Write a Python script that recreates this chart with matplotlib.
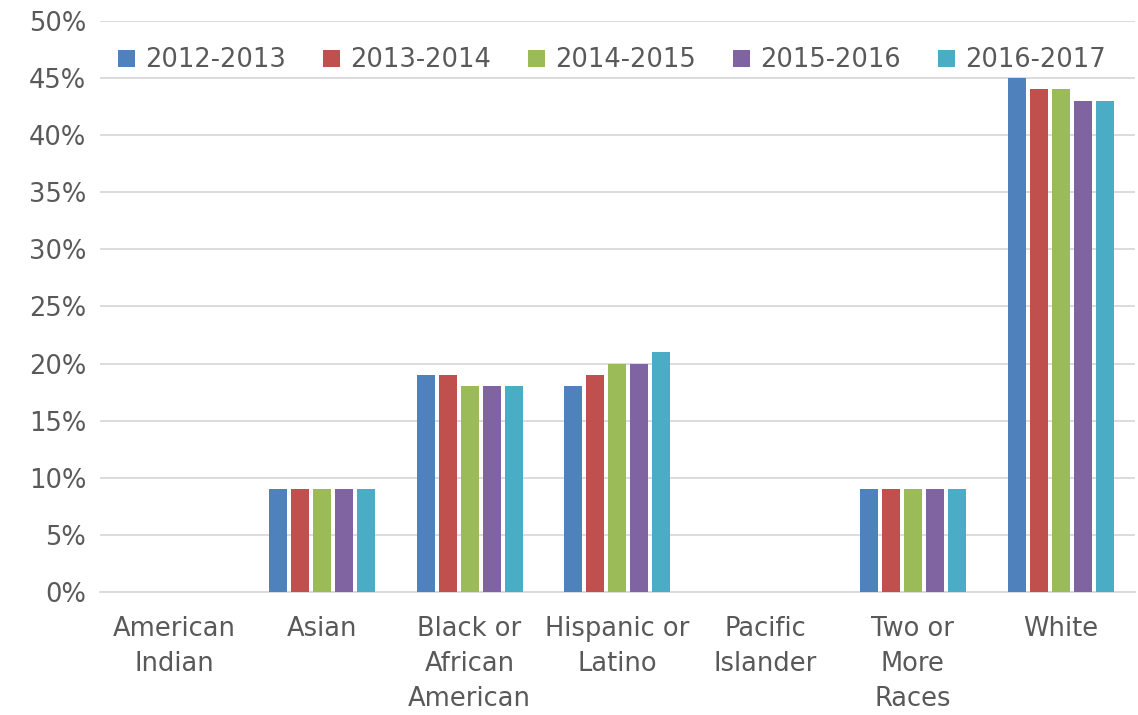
import matplotlib
matplotlib.use("Agg")
import matplotlib.pyplot as plt
import numpy as np
from matplotlib.ticker import FuncFormatter, MultipleLocator

categories = ["American\nIndian", "Asian", "Black or\nAfrican\nAmerican", "Hispanic or\nLatino",
              "Pacific\nIslander", "Two or\nMore\nRaces", "White"]
series_names = ["2012-2013", "2013-2014", "2014-2015", "2015-2016", "2016-2017"]
v2012 = [0, 9, 19, 18, 0, 9, 45]
v2013 = [0, 9, 19, 19, 0, 9, 44]
v2014 = [0, 9, 18, 20, 0, 9, 44]
v2015 = [0, 9, 18, 20, 0, 9, 43]
v2016 = [0, 9, 18, 21, 0, 9, 43]
series = [v2012, v2013, v2014, v2015, v2016]
colors = ["#4F81BD", "#C0504D", "#9BBB59", "#8064A2", "#4BACC6"]

plt.rcParams['font.family'] = ['DejaVu Sans']
fig = plt.figure(figsize=(11.38, 7.15), dpi=100)
ax = fig.add_axes([0.088, 0.172, 0.909, 0.799])
x = np.arange(len(categories))
slot = 0.149
for i, (name, vals, c) in enumerate(zip(series_names, series, colors)):
    ax.bar(x + (i - 2) * slot, vals, width=slot * 0.82, color=c, label=name, zorder=3)

ax.set_ylim(0, 50)
ax.set_xlim(-0.5, len(categories) - 0.5)
ax.yaxis.set_major_locator(MultipleLocator(5))
ax.yaxis.set_major_formatter(FuncFormatter(lambda v, p: f"{int(v)}%"))
ax.grid(axis="y", color="#D9D9D9", linewidth=1.3, zorder=0)
for s in ["top", "right", "left"]:
    ax.spines[s].set_visible(False)
ax.spines["bottom"].set_color("#D9D9D9")
ax.spines["bottom"].set_linewidth(1.3)
ax.tick_params(axis="both", length=0, labelsize=18.5, colors="#595959", pad=10)
ax.tick_params(axis="x", pad=17)
ax.set_xticks(x)
ax.set_xticklabels(categories, linespacing=1.45, va="top")
leg = ax.legend(loc="upper left", bbox_to_anchor=(0.0, 0.985), ncol=5, frameon=False,
                fontsize=18.5, handlelength=0.65, handleheight=0.65, handletextpad=0.4,
                columnspacing=1.45, borderaxespad=0.3)
for t in leg.get_texts():
    t.set_color("#595959")
fig.savefig("out.png", dpi=100)
